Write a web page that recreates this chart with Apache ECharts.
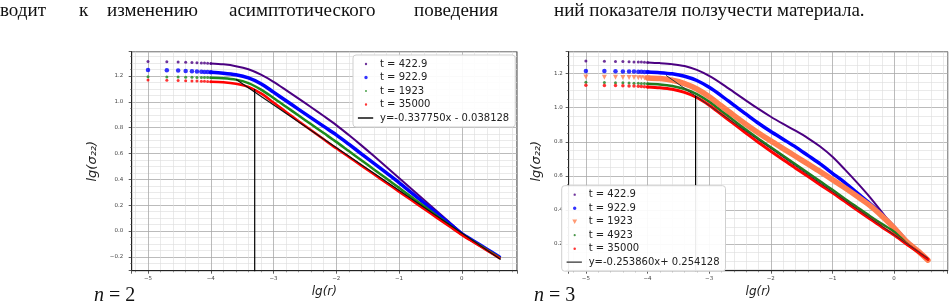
<!DOCTYPE html>
<html>
<head>
<meta charset="utf-8">
<script src="https://cdn.jsdelivr.net/npm/echarts@6/dist/echarts.min.js"></script>
<style>
  body { margin: 0; width: 949px; height: 304px; overflow: hidden; background: #fff; position: relative; }
  #plotN2 { position: absolute; left: 0; top: 0; width: 522px; height: 304px; }
  #plotN3 { position: absolute; left: 522px; top: 0; width: 427px; height: 304px; }
  .w { position: absolute; top: 0px; font-family: 'Liberation Serif', serif; font-size: 19px; line-height: 19px; white-space: nowrap; color: #111; }
  .n { position: absolute; top: 284px; font-family: 'Liberation Serif', serif; font-size: 20px; line-height: 20px; white-space: nowrap; color: #111; }
  .n i { font-style: italic; }
</style>
</head>
<body>
<div id="plotN2"></div>
<div id="plotN3"></div>
<span class="w" style="left:0px">водит</span>
<span class="w" style="left:79px">к</span>
<span class="w" style="left:107px">изменению</span>
<span class="w" style="left:229px">асимптотического</span>
<span class="w" style="left:414px">поведения</span>
<span class="w" style="left:554px">ний показателя ползучести материала.</span>
<span class="n" style="left:94px"><i>n</i> = 2</span>
<span class="n" style="left:534px"><i>n</i> = 3</span>
<script>
// x of the first sparse points (r = 1e-5 ... 1e-4)
const headX = [-5, -4.7, -4.52, -4.4, -4.3, -4.22, -4.15, -4.1, -4.05, -4.0];

// n = 2
const bodyX2 = [-4.0, -3.8, -3.6, -3.4, -3.2, -3.0, -2.8, -2.6, -2.4, -2.2, -2.0, -1.8, -1.6, -1.4, -1.2, -1.0, -0.8, -0.6, -0.4, -0.2, 0, 0.2, 0.4, 0.6];
const n2t422Head = [1.313, 1.311, 1.309, 1.307, 1.305, 1.303, 1.301, 1.3, 1.299, 1.297];
const n2t922Head = [1.246, 1.244, 1.242, 1.239, 1.237, 1.235, 1.233, 1.231, 1.23, 1.228];
const n2t1923Head = [1.194, 1.193, 1.192, 1.191, 1.19, 1.189, 1.189, 1.188, 1.188, 1.187];
const n2t35000Head = [1.169, 1.167, 1.165, 1.163, 1.162, 1.161, 1.16, 1.159, 1.158, 1.156];
const n2t422 = [1.297, 1.29, 1.276, 1.252, 1.21, 1.155, 1.091, 1.025, 0.958, 0.89, 0.82, 0.743, 0.663, 0.58, 0.495, 0.41, 0.325, 0.24, 0.155, 0.07, -0.015, -0.08, -0.14, -0.2];
const n2t922 = [1.228, 1.222, 1.21, 1.185, 1.14, 1.075, 1.008, 0.942, 0.876, 0.81, 0.744, 0.672, 0.598, 0.524, 0.45, 0.375, 0.296, 0.217, 0.138, 0.059, -0.02, -0.08, -0.14, -0.2];
const n2t1923 = [1.187, 1.183, 1.172, 1.145, 1.095, 1.03, 0.962, 0.894, 0.826, 0.758, 0.69, 0.619, 0.548, 0.477, 0.406, 0.335, 0.263, 0.191, 0.119, 0.047, -0.025, -0.085, -0.145, -0.205];
const n2t35000 = [1.156, 1.152, 1.14, 1.115, 1.065, 0.995, 0.922, 0.85, 0.78, 0.71, 0.64, 0.573, 0.506, 0.439, 0.372, 0.305, 0.238, 0.171, 0.104, 0.037, -0.03, -0.09, -0.15, -0.21];
const n2Fit = [[-3.6, 1.175], [0.62, -0.22]];
const n2Vertical = [[-3.3, -0.32], [-3.3, 1.10]];
const n2FitLabel = 'y=-0.337750x - 0.038128';

// n = 3
const bodyX3 = [-4.0, -3.8, -3.6, -3.4, -3.2, -3.0, -2.8, -2.6, -2.4, -2.2, -2.0, -1.8, -1.6, -1.4, -1.2, -1.0, -0.8, -0.6, -0.4, -0.2, 0, 0.2, 0.4, 0.55];
const n3t422Head = [1.274, 1.273, 1.272, 1.271, 1.27, 1.269, 1.268, 1.268, 1.267, 1.266];
const n3t922Head = [1.216, 1.215, 1.214, 1.213, 1.213, 1.212, 1.211, 1.211, 1.21, 1.21];
const n3t1923Head = [1.18, 1.179, 1.179, 1.178, 1.177, 1.177, 1.176, 1.176, 1.175, 1.175];
const n3t4923Head = [1.149, 1.148, 1.147, 1.146, 1.145, 1.144, 1.143, 1.142, 1.142, 1.141];
const n3t35000Head = [1.132, 1.131, 1.13, 1.129, 1.128, 1.127, 1.126, 1.125, 1.123, 1.122];
const n3t422 = [1.266, 1.262, 1.256, 1.245, 1.222, 1.187, 1.142, 1.092, 1.042, 0.993, 0.947, 0.905, 0.865, 0.822, 0.772, 0.712, 0.638, 0.56, 0.478, 0.388, 0.295, 0.22, 0.155, 0.105];
const n3t922 = [1.21, 1.206, 1.199, 1.185, 1.16, 1.12, 1.07, 1.015, 0.962, 0.909, 0.86, 0.815, 0.77, 0.72, 0.67, 0.615, 0.56, 0.5, 0.44, 0.375, 0.3, 0.22, 0.155, 0.105];
const n3t1923 = [1.175, 1.171, 1.161, 1.142, 1.11, 1.065, 1.01, 0.955, 0.902, 0.852, 0.805, 0.76, 0.715, 0.67, 0.625, 0.578, 0.53, 0.48, 0.428, 0.365, 0.295, 0.215, 0.155, 0.105];
const n3t4923 = [1.141, 1.137, 1.128, 1.11, 1.08, 1.035, 0.98, 0.925, 0.87, 0.817, 0.768, 0.718, 0.668, 0.618, 0.568, 0.518, 0.466, 0.416, 0.366, 0.318, 0.272, 0.205, 0.15, 0.11];
const n3t35000 = [1.122, 1.117, 1.108, 1.09, 1.06, 1.015, 0.96, 0.905, 0.85, 0.796, 0.745, 0.695, 0.645, 0.597, 0.548, 0.5, 0.45, 0.4, 0.35, 0.3, 0.253, 0.2, 0.15, 0.11];
const n3Fit = [[-3.7, 1.19], [0.55, 0.115]];
const n3Vertical = [[-3.22, 0.03], [-3.22, 1.07]];
const n3FitLabel = 'y=-0.253860x+ 0.254128';

const pair = (xs, ys) => xs.map((x, i) => [x, ys[i]]);
const minus = v => (v < 0 ? '\u2212' + Math.abs(v) : String(v));

// legend icons: an empty 20x10 box keeps the marker small inside the 18x9 legend slot
const box = 'path://M0,0L0.01,0Z M20,10L19.99,10Z ';
const dotIcon = r => box + `M${10 - r},5a${r},${r} 0 1,0 ${2 * r},0a${r},${r} 0 1,0 ${-2 * r},0Z`;
const triIcon = box + 'M7.3,2.6L12.7,2.6L10,7.6Z';
const barIcon = h => box + `M1,${5 - h}L18,${5 - h}L18,${5 + h}L1,${5 + h}Z`;

function curve(name, color, head, body, bodyX, size, width, extra) {
    return [
        Object.assign({
            name: name, type: 'scatter', data: pair(headX, head),
            symbolSize: size, itemStyle: { color: color }, silent: true, z: 3
        }, extra || {}),
        {
            name: name, type: 'line', data: pair(bodyX, body),
            showSymbol: false, symbol: 'none', smooth: 0.3,
            lineStyle: { color: color, width: width, join: 'round', cap: 'round' }, itemStyle: { color: color }, silent: true, z: 3
        }
    ];
}

function straight(name, data, color, width) {
    return {
        name: name, type: 'line', data: data, symbol: 'none',
        lineStyle: { color: color, width: width }, itemStyle: { color: color }, silent: true, z: 4
    };
}

function axes(xMin, xMax, yMin, yMax, ySplit, yLabelMargin, yNameGap) {
    const tickFont = { fontFamily: 'DejaVu Sans', fontSize: 5.5, color: '#444' };
    return {
        xAxis: {
            type: 'value', min: xMin, max: xMax,
            name: 'lg(r)', nameLocation: 'middle', nameGap: 14,
            nameTextStyle: { fontFamily: 'DejaVu Sans', fontStyle: 'italic', fontSize: 12, color: '#222' },
            axisLine: { show: true, onZero: false, lineStyle: { color: '#222', width: 1 } },
            axisTick: { show: true, length: 3, lineStyle: { color: '#333', width: 0.8 } },
            minorTick: { show: true, splitNumber: 5, length: 1.6, lineStyle: { color: '#555', width: 0.6 } },
            axisLabel: Object.assign({ margin: 4.5, showMinLabel: false, showMaxLabel: false, formatter: v => minus(v) }, tickFont),
            splitLine: { show: true, lineStyle: { color: '#a9a9a9', width: 0.8 } },
            minorSplitLine: { show: true, lineStyle: { color: '#dcdcdc', width: 0.6 } }
        },
        yAxis: {
            type: 'value', min: yMin, max: yMax, splitNumber: ySplit,
            name: 'lg(σ₂₂)', nameLocation: 'middle', nameGap: yNameGap,
            nameTextStyle: { fontFamily: 'DejaVu Sans', fontStyle: 'italic', fontSize: 13, color: '#222' },
            axisLine: { show: true, onZero: false, lineStyle: { color: '#222', width: 1 } },
            axisTick: { show: true, length: 3, lineStyle: { color: '#333', width: 0.8 } },
            minorTick: { show: true, splitNumber: 4, length: 1.6, lineStyle: { color: '#555', width: 0.6 } },
            axisLabel: Object.assign({ margin: yLabelMargin, showMinLabel: false, showMaxLabel: false,
                formatter: v => (v < 0 ? '\u2212' : '') + Math.abs(v).toFixed(1) }, tickFont),
            splitLine: { show: true, lineStyle: { color: '#a9a9a9', width: 0.8 } },
            minorSplitLine: { show: true, lineStyle: { color: '#dcdcdc', width: 0.6 } }
        }
    };
}

const legendBase = {
    orient: 'vertical', padding: [4, 6, 4, 4], itemWidth: 18, itemHeight: 9, itemGap: 3.5,
    backgroundColor: 'rgba(255,255,255,0.92)', borderColor: '#cfcfcf', borderWidth: 1, borderRadius: 3,
    textStyle: { fontFamily: 'DejaVu Sans', fontSize: 10, color: '#222' },
    selectedMode: false, z: 10
};

const chartN2 = echarts.init(document.getElementById('plotN2'));
chartN2.setOption(Object.assign({
    animation: false,
    grid: { left: 131.7, top: 51.7, width: 385.3, height: 219, show: true, borderColor: '#222', borderWidth: 1 },
    legend: Object.assign({}, legendBase, {
        left: 353, top: 55,
        data: [
            { name: 't = 422.9', icon: dotIcon(1.3) },
            { name: 't = 922.9', icon: dotIcon(1.9) },
            { name: 't = 1923', icon: dotIcon(1.1) },
            { name: 't = 35000', icon: dotIcon(1.3) },
            { name: n2FitLabel, icon: barIcon(0.9) }
        ]
    }),
    series: [].concat(
        curve('t = 422.9', '#4b0082', n2t422Head, n2t422, bodyX2, 3, 2),
        curve('t = 922.9', '#0000ff', n2t922Head, n2t922, bodyX2, 4.5, 3.5),
        curve('t = 1923', '#1b8a1b', n2t1923Head, n2t1923, bodyX2, 3, 2.5),
        curve('t = 35000', '#ff0000', n2t35000Head, n2t35000, bodyX2, 3, 2.5),
        [straight(n2FitLabel, n2Fit, '#111', 1.2), straight('r0', n2Vertical, '#000', 1.2)]
    )
}, axes(-5.26, 0.88, -0.307, 1.388, 8, 8.5, 20)));

const chartN3 = echarts.init(document.getElementById('plotN3'));
chartN3.setOption(Object.assign({
    animation: false,
    grid: { left: 35.7, top: 51.7, width: 390, height: 219, show: true, borderColor: '#222', borderWidth: 1 },
    legend: Object.assign({}, legendBase, {
        left: 39.7, top: 185.7,
        data: [
            { name: 't = 422.9', icon: dotIcon(1.3) },
            { name: 't = 922.9', icon: dotIcon(1.9) },
            { name: 't = 1923', icon: triIcon },
            { name: 't = 4923', icon: dotIcon(1.2) },
            { name: 't = 35000', icon: dotIcon(1.4) },
            { name: n3FitLabel, icon: barIcon(0.7) }
        ]
    }),
    series: [].concat(
        curve('t = 422.9', '#4b0082', n3t422Head, n3t422, bodyX3, 3, 2),
        curve('t = 922.9', '#0000ff', n3t922Head, n3t922, bodyX3, 4.5, 3.5),
        curve('t = 1923', '#ff7f50', n3t1923Head, n3t1923, bodyX3, 5, 5.5, { symbol: 'triangle', symbolRotate: 180 }),
        curve('t = 4923', '#1e7d1e', n3t4923Head, n3t4923, bodyX3, 3, 2.5),
        curve('t = 35000', '#ff0000', n3t35000Head, n3t35000, bodyX3, 3.5, 3),
        [straight(n3FitLabel, n3Fit, '#333', 1), straight('r0', n3Vertical, '#000', 1.2)]
    )
}, axes(-5.28, 0.87, 0.043, 1.329, 6, 6, 14)));
</script>
</body>
</html>
